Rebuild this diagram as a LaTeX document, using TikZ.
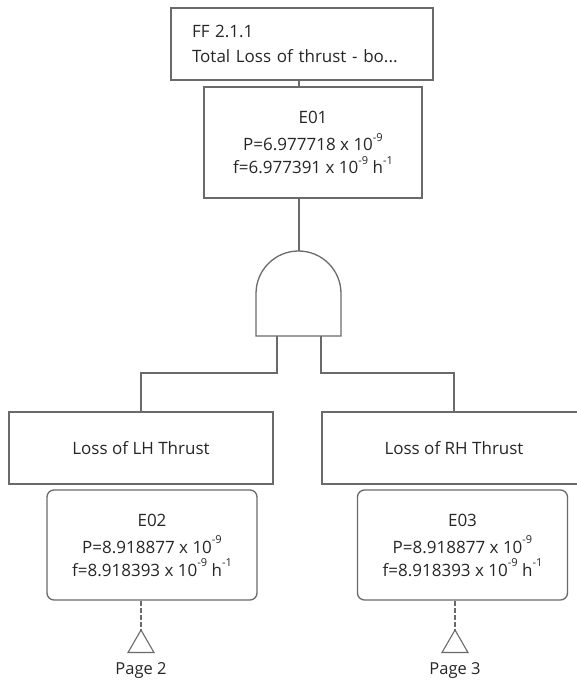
\documentclass[tikz,border=0pt]{standalone}
\usepackage{fontspec}
\setmainfont{Open Sans}
\usetikzlibrary{shapes.geometric,positioning,calc}
\definecolor{ftline}{HTML}{6A6A6A}
\definecolor{fttext}{HTML}{262626}
\newcommand{\sups}[1]{\raisebox{0.55em}{\fontsize{11}{11}\selectfont #1}}
\tikzstyle{eventbox}=[draw=ftline,line width=1.3pt,text=fttext,align=center,inner sep=0pt]
\tikzstyle{databox}=[eventbox,rounded corners=7pt,minimum width=210pt,minimum height=110pt]
\tikzstyle{descbox}=[eventbox,minimum width=264pt,minimum height=72pt]
\tikzstyle{transfer}=[draw=ftline,line width=1.1pt,regular polygon,regular polygon sides=3,minimum size=30pt,inner sep=0pt]
\tikzstyle{link}=[draw=ftline,line width=1.3pt]
\tikzstyle{pagelabel}=[text=fttext,font=\fontsize{16.5}{18}\selectfont]

\begin{document}
\begin{tikzpicture}[x=1pt,y=-1pt,font=\fontsize{17}{23}\selectfont]
    \useasboundingbox (0,0) rectangle (576,687);

    % top event
    \node[eventbox,minimum width=262pt,minimum height=72pt,text width=220pt,align=left,
          font=\fontsize{17}{25}\selectfont] (ff) at (302,44)
          {FF 2.1.1\\Total Loss of thrust - bo...};
    \node[eventbox,minimum width=218pt,minimum height=111pt] (e01) at (313,142.5)
          {E01\\[4pt]P=6.977718 x 10\sups{-9}\\f=6.977391 x 10\sups{-9} h\sups{-1}};

    % AND gate
    \coordinate (gtop) at (299,251);
    \coordinate (gl) at (277,336);
    \coordinate (gr) at (321,336);
    \draw[link] (256,336) -- (256,293.5) arc (180:360:42.5) -- (341,336) -- cycle;

    % descriptions and data of the two inputs
    \foreach \pos/ \name/ \txt in {{(141,448)/lh/Loss of LH Thrust}, {(454,448)/rh/Loss of RH Thrust}}
        \node[descbox] (\name) at \pos {\txt};
    \foreach \pos/ \name/ \num in {{(152,545)/e02/E02}, {(462.5,545)/e03/E03}}
        \node[databox] (\name) at \pos
          {\num\\[4pt]P=8.918877 x 10\sups{-9}\\f=8.918393 x 10\sups{-9} h\sups{-1}};

    % transfers
    \foreach \pos/ \name/ \pg in {{(141,645)/tr2/2}, {(455,645)/tr3/3}} {
        \node[transfer] (\name) at \pos {};
        \node[pagelabel,below=6pt of \name] (\name lbl) {Page \pg};
    }

    % connections
    \draw[link] (ff.south -| gtop) -- (e01.north -| gtop);
    \draw[link] (e01.south -| gtop) -- (gtop);
    \draw[link] (gl) -- ++(0,37) -| (lh.north);
    \draw[link] (gr) -- ++(0,37) -| (rh.north);
    \foreach \src/ \tr in {e02/tr2, e03/tr3}
        \draw[link,line width=1.1pt,dash pattern=on 5pt off 2pt] (\tr.north |- \src.south) -- (\tr.north);
\end{tikzpicture}
\end{document}
